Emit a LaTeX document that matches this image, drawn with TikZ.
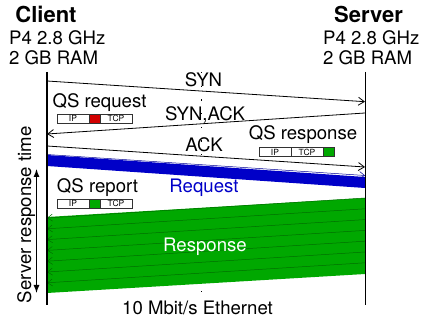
\documentclass[tikz,border=0pt]{standalone}
\usepackage{fontspec}
\setmainfont{TeX Gyre Heros}
\usetikzlibrary{arrows.meta}
\definecolor{qsgreen}{RGB}{0,168,0}
\definecolor{qsdkgreen}{RGB}{0,110,0}
\definecolor{qsblue}{RGB}{0,0,200}
\definecolor{qsdkblue}{RGB}{0,0,150}
\definecolor{qsred}{RGB}{210,0,0}
\definecolor{boxgray}{RGB}{50,50,50}
\tikzset{
  lbl/.style={inner sep=0pt, anchor=base, font=\fontsize{18.6}{20}\selectfont},
  ttl/.style={inner sep=0pt, anchor=base, font=\fontsize{22}{24}\selectfont\bfseries},
  spec/.style={inner sep=0pt, anchor=base west, font=\fontsize{18.6}{20}\selectfont},
  msg/.style={line width=0.8pt, -{Straight Barb[length=6pt,width=8pt]}},
  life/.style={line width=1.4pt},
  pktcell/.style={draw=boxgray, line width=0.7pt, minimum height=9pt, inner sep=0pt, outer sep=0pt,
    font=\fontsize{8.5}{9}\selectfont, anchor=west},
  pkt/.style={line width=0.5pt, -{Straight Barb[length=5pt,width=7pt]}},
}
\begin{document}
\begin{tikzpicture}[x=1pt,y=-1pt]
\useasboundingbox (0,0) rectangle (421,320);
% centre dotted line
\coordinate (m0) at (201,72);
\coordinate (m1) at (201,302);
\draw[dash pattern=on 1.2pt off 12.5pt, line width=1pt] (m0) -- (m1);
% request band
\coordinate (rq1) at (47,155);
\coordinate (rq2) at (365,177);
\coordinate (rq3) at (365,188);
\coordinate (rq4) at (47,166);
\fill[qsblue] (rq1) -- (rq2) -- (rq3) -- (rq4) -- cycle;
\draw[qsdkblue, pkt] (47,154.5) -- (365,175.5);
% response band
\coordinate (rs1) at (47,217);
\coordinate (rs2) at (365,198);
\coordinate (rs3) at (365,274);
\coordinate (rs4) at (47,293);
\fill[qsgreen] (rs1) -- (rs2) -- (rs3) -- (rs4) -- cycle;
\foreach \i in {0,...,6}
  \draw[qsdkgreen, pkt] ({365},{198+10.8*\i}) -- ({47},{218+10.8*\i});
% life lines
\coordinate (c0) at (47,72);
\coordinate (c1) at (47,305);
\coordinate (s0) at (365.5,72);
\coordinate (s1) at (365.5,305);
\draw[life] (c0) -- (c1);
\draw[life] (s0) -- (s1);
% messages
\coordinate (syn1) at (47,81);
\coordinate (syn2) at (365,101.7);
\coordinate (sa1) at (365,113);
\coordinate (sa2) at (47,134);
\coordinate (ack1) at (47,146);
\coordinate (ack2) at (365,167);
\draw[msg] (syn1) -- (syn2);
\draw[msg] (sa1) -- (sa2);
\draw[msg] (ack1) -- (ack2);
\node[lbl] (lsyn) at (203.5,87) {SYN};
\node[lbl] (lsa) at (205,121) {SYN,ACK};
\node[lbl] (lack) at (204,152) {ACK};
\node[lbl, text=qsblue] (lreq) at (204,193) {Request};
\node[lbl, text=white] (lresp) at (205,252) {Response};
\node[lbl] (leth) at (197.5,315) {10 Mbit/s Ethernet};
% titles
\node[ttl] (tc) at (46,22.5) {Client};
\node[spec] (tc1) at (9,44.5) {P4 2.8 GHz};
\node[spec] (tc2) at (9,65) {2 GB RAM};
\node[ttl] (ts) at (368.5,22.5) {Server};
\node[spec] (ts1) at (323,44.5) {P4 2.8 GHz};
\node[spec] (ts2) at (323,65) {2 GB RAM};
% QS request
\node[lbl] (lqrq) at (99.5,108) {QS request};
\node[pktcell, minimum width=32pt] (q1ip) at (57,118.5) {IP};
\node[pktcell, minimum width=11pt, fill=qsred] (q1qs) at (q1ip.east) {};
\node[pktcell, minimum width=32pt] (q1tcp) at (q1qs.east) {TCP};
% QS response
\node[lbl] (lqrs) at (303,140) {QS response};
\node[pktcell, minimum width=32pt] (q2ip) at (259,152) {IP};
\node[pktcell, minimum width=32pt] (q2tcp) at (q2ip.east) {TCP};
\node[pktcell, minimum width=11pt, fill=qsgreen] (q2qs) at (q2tcp.east) {};
% QS report
\node[lbl] (lqrp) at (97.5,193) {QS report};
\node[pktcell, minimum width=32pt] (q3ip) at (57,203.5) {IP};
\node[pktcell, minimum width=11pt, fill=qsgreen] (q3qs) at (q3ip.east) {};
\node[pktcell, minimum width=32pt] (q3tcp) at (q3qs.east) {TCP};
% server response time
\coordinate (rt0) at (36.5,169);
\coordinate (rt1) at (36.5,293);
\draw[line width=1pt, {Latex[length=8pt,width=6pt]}-{Latex[length=8pt,width=6pt]}] (rt0) -- (rt1);
\node[lbl, rotate=90] (lrt) at (31,215) {Server response time};
\end{tikzpicture}
\end{document}
